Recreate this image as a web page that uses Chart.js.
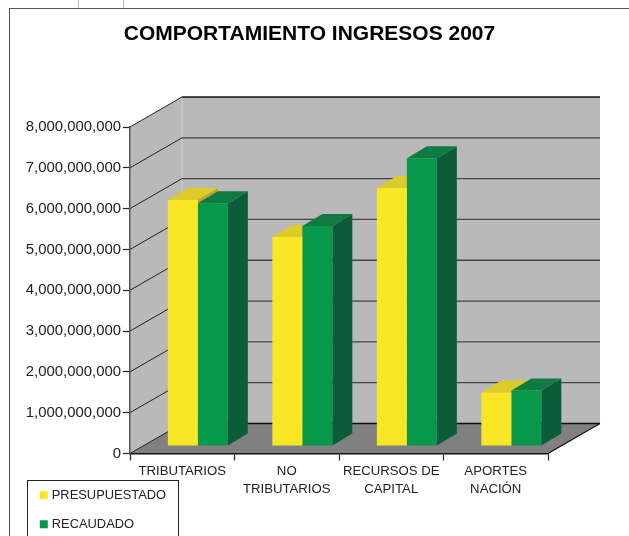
<!DOCTYPE html>
<html>
<head>
<meta charset="utf-8">
<title>Comportamiento ingresos 2007</title>
<script src="https://cdn.jsdelivr.net/npm/chart.js@4/dist/chart.umd.min.js"></script>
<style>
  html, body { margin: 0; padding: 0; background: #fff; overflow: hidden; width: 629px; height: 536px; }
  .frame { position: absolute; left: 9px; top: 8px; width: 900px; height: 900px; border: 1.5px solid #555; }
  .legend-box { position: absolute; left: 27px; top: 480px; width: 150px; height: 100px; border: 1px solid #222; }
  .cell { position: absolute; top: 0; width: 1px; height: 8px; background: #bbb; }
  canvas { position: absolute; left: 0; top: 0; }
</style>
</head>
<body>
<div class="cell" style="left:78px"></div>
<div class="cell" style="left:123px"></div>
<div class="frame"></div>
<div class="legend-box"></div>
<canvas id="chart" width="619" height="536"></canvas>
<script>
const categories = [
  "TRIBUTARIOS",
  ["NO", "TRIBUTARIOS"],
  ["RECURSOS DE", "CAPITAL"],
  ["APORTES", "NACIÓN"],
];
const presupuestado = [6030000000, 5120000000, 6320000000, 1310000000];
const recaudado = [5950000000, 5390000000, 7050000000, 1360000000];
const TICK_STEP = 1000000000;
const AXIS_MAX = 8000000000;

const WALL = { dx: 52, dy: -30 };
const BAR_SHIFT = { dx: 15.6, dy: -7.5 };
const BAR_DEPTH = { dx: 20, dy: -12 };
const TITLE_SIZE = 21;

const shades = [
  { top: "#dccb28", side: "#b8a52a" },
  { top: "#0f7b43", side: "#0d5c39" },
];

function poly(ctx, points, fill) {
  ctx.beginPath();
  points.forEach(([x, y], i) => (i ? ctx.lineTo(x, y) : ctx.moveTo(x, y)));
  ctx.closePath();
  ctx.fillStyle = fill;
  ctx.fill();
}

function line(ctx, x1, y1, x2, y2, color, width) {
  ctx.beginPath();
  ctx.moveTo(x1, y1);
  ctx.lineTo(x2, y2);
  ctx.strokeStyle = color;
  ctx.lineWidth = width;
  ctx.stroke();
}

// walls and floor of the fake 3d box
const box3d = {
  id: "box3d",
  beforeDraw(chart) {
    const { ctx, chartArea: a, scales } = chart;
    const { dx, dy } = WALL;
    ctx.save();
    poly(ctx, [[a.left, a.top], [a.left + dx, a.top + dy], [a.left + dx, a.bottom + dy], [a.left, a.bottom]], "#b9b9b9");
    poly(ctx, [[a.left + dx, a.top + dy], [a.right + dx, a.top + dy], [a.right + dx, a.bottom + dy], [a.left + dx, a.bottom + dy]], "#b9b9b9");
    poly(ctx, [[a.left, a.bottom], [a.left + dx, a.bottom + dy], [a.right + dx, a.bottom + dy], [a.right, a.bottom]], "#808080");
    line(ctx, a.left + dx, a.top + dy, a.left + dx, a.bottom + dy, "#cfcfcf", 1);
    scales.y.ticks.forEach((t) => {
      const y = scales.y.getPixelForValue(t.value);
      line(ctx, a.left, y, a.left + dx, y + dy, "#222", 1);
      line(ctx, a.left + dx, y + dy, a.right + dx, y + dy, t.value === AXIS_MAX || t.value === 0 ? "#111" : "#444", 1.3);
    });
    line(ctx, a.right, a.bottom, a.right + dx, a.bottom + dy, "#111", 1.3);
    ctx.restore();
  },
  // tops and sides first, the library then paints the front faces in the shifted plane
  beforeDatasetsDraw(chart) {
    const { ctx } = chart;
    const { dx, dy } = BAR_DEPTH;
    ctx.save();
    ctx.translate(BAR_SHIFT.dx, BAR_SHIFT.dy);
    chart.data.datasets.forEach((ds, i) => {
      chart.getDatasetMeta(i).data.forEach((bar) => {
        const left = bar.x - bar.width / 2;
        const right = bar.x + bar.width / 2;
        poly(ctx, [[right, bar.y], [right + dx, bar.y + dy], [right + dx, bar.base + dy], [right, bar.base]], shades[i].side);
        poly(ctx, [[left, bar.y], [left + dx, bar.y + dy], [right + dx, bar.y + dy], [right, bar.y]], shades[i].top);
      });
    });
  },
  afterDatasetsDraw(chart) {
    chart.ctx.restore();
  },
  afterLayout(chart) {
    // title centred on the page, legend sits below the axis labels
    chart.titleBlock.left = 0;
    chart.titleBlock.right = chart.width;
    const lg = chart.legend;
    lg.left = 26.2;
    lg.right = 180;
    lg.top = 472.8;
    lg.bottom = 560;
  },
};

new Chart(document.getElementById("chart"), {
  type: "bar",
  plugins: [box3d],
  data: {
    labels: categories,
    datasets: [
      { label: "PRESUPUESTADO", data: presupuestado, backgroundColor: "#f9e727", pointStyle: "rect" },
      { label: "RECAUDADO", data: recaudado, backgroundColor: "#07984b", pointStyle: "rect" },
    ],
  },
  options: {
    responsive: false,
    animation: false,
    layout: { padding: { right: 71 } },
    datasets: { bar: { categoryPercentage: 0.574, barPercentage: 1, borderWidth: 0 } },
    plugins: {
      tooltip: { enabled: false },
      title: {
        display: true,
        text: "COMPORTAMIENTO INGRESOS 2007",
        color: "#000",
        font: { family: "Liberation Sans", size: TITLE_SIZE, weight: "bold" },
        padding: { top: 22, bottom: 79.8 },
      },
      legend: {
        position: "chartArea",
        align: "start",
        labels: {
          usePointStyle: true,
          boxWidth: 3,
          boxHeight: 8,
          padding: 16.1,
          color: "#222",
          font: { family: "Liberation Sans", size: 12.9 },
        },
      },
    },
    scales: {
      x: {
        afterFit(scale) { scale.height = 82.5; },
        border: { color: "#111", width: 1.5 },
        grid: { drawOnChartArea: false, tickLength: 7, tickColor: "#222", tickWidth: 1.2 },
        ticks: {
          color: "#222",
          padding: 2.5,
          maxRotation: 0,
          autoSkip: false,
          font: { family: "Liberation Sans", size: 13.2, lineHeight: 1.32 },
        },
      },
      y: {
        min: 0,
        max: AXIS_MAX,
        afterFit(scale) { scale.width = 130; },
        border: { color: "#555", width: 1.5 },
        grid: { drawOnChartArea: false, tickLength: 7, tickColor: "#222", tickWidth: 1.2 },
        ticks: {
          stepSize: TICK_STEP,
          color: "#222",
          padding: 2,
          font: { family: "Liberation Sans", size: 14.9 },
          callback: (v) => v.toLocaleString("en-US"),
        },
      },
    },
  },
});
</script>
</body>
</html>
